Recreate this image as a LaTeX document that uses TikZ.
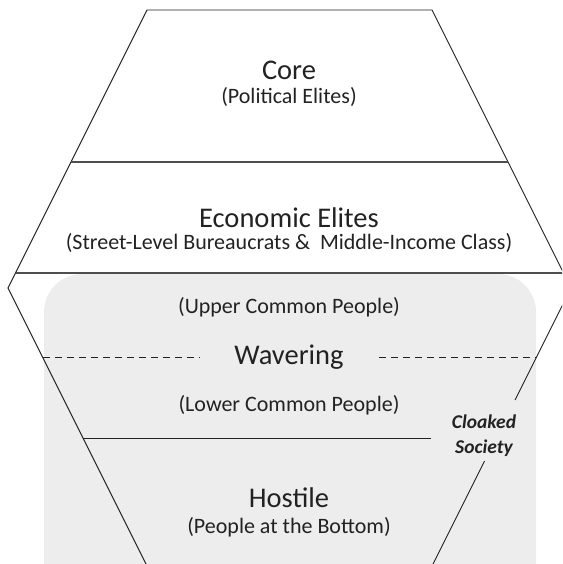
\documentclass[tikz,border=0pt]{standalone}
\usepackage{fontspec}
\setmainfont{Carlito}
\definecolor{mist}{HTML}{EDEDED}
\definecolor{ink}{HTML}{222222}
\newcommand{\bigfont}{\fontsize{28.5}{34}\selectfont}
\newcommand{\subfont}{\fontsize{22}{26}\selectfont}
\newcommand{\tagfont}{\fontsize{19.5}{25}\selectfont\bfseries\itshape}

\begin{document}
\begin{tikzpicture}[x=1pt,y=-1pt]
		\tikzset{title/.style = {font=\bigfont, text=ink, inner sep=0pt}}
		\tikzset{sub/.style = {font=\subfont, text=ink, inner sep=0pt}}
		\tikzset{edge/.style = {draw=ink, line width=0.9pt}}
		\tikzset{layer/.style = {draw=ink!80, line width=1.2pt}}
		\tikzset{split/.style = {edge, dash pattern=on 7pt off 5pt}}
		
		\useasboundingbox (0,0) rectangle (562,564);
		\clip (0,0) rectangle (562,564);
		
		\fill[mist, rounded corners=38pt] (44,274) rectangle (536,620);
		
		\coordinate (TL) at ( 147,   10);
		\coordinate (TR) at ( 432,   10);
		\coordinate (R)  at ( 571,  288);
		\coordinate (BR) at ( 432,  566);
		\coordinate (BL) at ( 147,  566);
		\coordinate (L)  at (   8,  288);
		
		\coordinate (a1) at (  71,  162);
		\coordinate (a2) at ( 508,  162);
		\coordinate (b1) at (15.5,  273);
		\coordinate (b2) at (563.5, 273);
		\coordinate (d1) at (42.5,  357);
		\coordinate (d2) at (536.5, 357);
		\coordinate (s1) at (  83,  438);
		\coordinate (s2) at ( 431,  438);
		\coordinate (c1) at ( 515,  400);
		\coordinate (c2) at (484.5, 461);
		
		\draw[edge] (c1) -- (R) -- (TR) -- (TL) -- (L) -- (BL) -- (BR) -- (c2);
		\draw[layer] (a1) -- (a2);
		\draw[layer] (b1) -- (b2);
		\draw[edge] (s1) -- (s2);
		
		\node[title]  (core)    at ( 289,   70) {Core};
		\node[sub]    (coresub) at ( 289,   97) {(Political Elites)};
		\node[title]  (econ)    at ( 289,  218) {Economic Elites};
		\node[sub]    (econsub) at ( 289,  243) {(Street-Level Bureaucrats \&\ \ Middle-Income Class)};
		\node[sub]    (upper)   at ( 289,  307) {(Upper Common People)};
		\node[title, inner xsep=35pt] (wav) at (289, 357) {Wavering};
		\node[sub]    (lower)   at ( 289,  405) {(Lower Common People)};
		\node[title]  (host)    at ( 289,  498) {Hostile};
		\node[sub]    (hostsub) at ( 289,  527) {(People at the Bottom)};
		\node[font=\tagfont, text=ink, align=center, inner sep=0pt] (cloak) at (484, 436) {Cloaked\\Society};
		
		\draw[split] (d1) -- (wav.west);
		\draw[split] (wav.east) -- (d2);
\end{tikzpicture}
\end{document}
